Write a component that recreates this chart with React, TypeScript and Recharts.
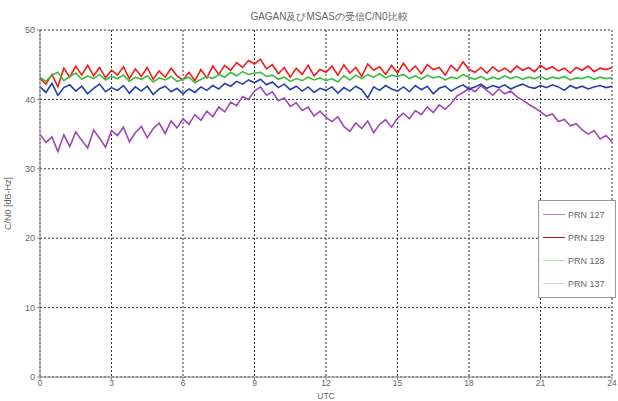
import { CartesianGrid, Line, LineChart, XAxis, YAxis } from "recharts";

// time in hours (UTC), every 15 minutes
const hours: number[] = Array.from({ length: 97 }, (_, i) => i * 0.25);

const prn127 = [
  35.0, 33.8, 34.6, 32.5, 34.9, 33.2, 35.3, 34.1, 33.0, 35.6, 34.4, 33.1, 35.5,
  34.8, 36.0, 33.9, 35.2, 36.1, 34.5, 35.8, 36.6, 35.1, 36.9, 35.9, 37.2,
  36.4, 37.8, 37.0, 38.3, 37.5, 38.9, 38.2, 39.6, 39.1, 40.4, 40.0, 41.2,
  41.8, 40.6, 41.1, 39.8, 40.2, 39.0, 39.5, 38.4, 38.9, 37.6, 38.3, 37.4,
  36.8, 37.5, 36.1, 35.4, 36.6, 35.8, 36.9, 35.2, 36.4, 37.1, 36.0, 37.3,
  38.0, 37.2, 38.4, 37.8, 38.9, 38.1, 39.2, 38.6, 39.4, 40.5, 41.0, 41.6,
  41.1, 42.0, 41.3, 40.6, 41.5, 40.8, 41.2, 40.4, 39.9, 39.3, 38.8, 38.2,
  37.6, 37.9, 36.8, 37.1, 36.2, 36.5, 35.6, 35.0, 35.5, 34.3, 34.8, 33.9,
];

const prn129 = [
  43.0, 42.2, 43.6, 41.8, 44.5, 43.2, 44.8, 43.5, 44.9, 43.4, 44.6, 43.1, 44.2,
  43.5, 44.7, 43.0, 44.4, 43.3, 44.6, 42.9, 44.1, 43.2, 44.5, 43.4, 42.8,
  43.9, 42.7, 44.3, 43.1, 44.8, 43.6, 44.9, 44.2, 45.3, 44.6, 45.6, 45.1,
  45.8, 44.4, 45.0, 43.7, 44.6, 43.2, 44.5, 43.6, 44.9, 43.4, 44.3, 43.9,
  44.8, 43.5, 45.0, 43.8, 44.6, 43.3, 45.1, 44.2, 44.7, 43.6, 44.9, 43.8,
  45.2, 44.0, 44.8, 43.7, 45.0, 44.3, 44.6, 43.5, 44.9, 44.1, 45.4, 44.3,
  43.9, 44.6, 43.8, 44.7, 44.0, 44.5, 43.9, 44.8, 44.2, 44.6, 44.0, 44.9,
  44.3, 44.7, 44.1, 44.5, 43.8, 44.6, 44.2, 44.8, 44.0, 44.5, 44.3, 44.6,
];

const prn128 = [
  43.2, 42.6, 43.5, 43.9, 42.7, 43.3, 43.8, 42.9, 43.4, 43.0, 43.6, 42.8, 43.3,
  43.0, 43.5, 42.6, 43.2, 42.9, 43.4, 42.5, 43.1, 42.8, 43.3, 42.6, 42.9,
  43.2, 42.4, 42.9, 43.3, 43.0, 43.6, 43.2, 43.9, 43.4, 44.0, 43.6, 43.8,
  43.9, 43.3, 43.5, 42.9, 43.2, 42.6, 43.0, 42.7, 43.2, 42.8, 43.1, 42.7,
  43.0, 42.5, 43.4, 42.8, 43.5, 43.0, 43.6, 43.2, 43.7, 43.1, 43.5, 43.3,
  43.6, 43.0, 43.4, 42.9, 43.5, 43.1, 43.3, 42.8, 43.2, 43.0, 43.6, 43.2,
  42.9, 43.3, 42.8, 43.2, 42.9, 43.4, 43.0, 43.3, 42.9, 43.2, 43.0, 43.3,
  42.9, 43.2, 43.0, 43.3, 42.8, 43.1, 43.0, 43.3, 42.9, 43.2, 43.0, 43.1,
];

const prn137 = [
  41.8, 41.0, 42.3, 40.6, 41.7, 42.1, 41.2, 41.9, 40.8, 41.6, 42.2, 41.1, 41.7,
  41.3, 42.0, 40.9, 41.8, 41.2, 41.9, 40.7, 41.5, 41.9, 41.1, 41.6, 40.8,
  41.5, 41.0, 41.8, 41.3, 42.0, 41.5, 42.3, 41.9, 42.6, 42.2, 42.8, 42.4,
  42.9, 42.1, 42.5, 41.7, 42.2, 41.4, 41.9, 41.2, 41.8, 41.0, 41.6, 41.3,
  41.8, 40.9, 41.7, 41.2, 41.9, 41.4, 40.2, 41.8, 41.3, 42.0, 41.5, 41.2,
  41.8, 41.1, 42.0, 41.4, 41.9, 40.8, 41.6, 41.9, 41.2, 41.7, 42.1, 41.5,
  41.8, 42.2, 41.6, 42.0, 41.7, 42.1, 41.5, 41.9, 42.2, 41.8, 41.6, 42.0,
  41.7, 42.1, 41.8, 41.3, 42.0, 41.6, 41.9, 41.5, 41.8, 42.0, 41.7, 41.9,
];

const xTicks = [0, 3, 6, 9, 12, 15, 18, 21, 24];
const yTicks = [0, 10, 20, 30, 40, 50];

const series = [
  { key: "prn127", name: "PRN 127", color: "#a048b8", legendColor: "#d070d0" },
  { key: "prn129", name: "PRN 129", color: "#f01c1c", legendColor: "#a02020" },
  { key: "prn128", name: "PRN 128", color: "#3cbc3c", legendColor: "#a0e0a0" },
  { key: "prn137", name: "PRN 137", color: "#2440b0", legendColor: "#d0d0f0" },
];

const data = hours.map((t, i) => ({
  t,
  prn127: prn127[i],
  prn129: prn129[i],
  prn128: prn128[i],
  prn137: prn137[i],
}));

const font = "'Liberation Sans', Arial, sans-serif";
const tickStyle = { fontSize: 9, fill: "#666", fontFamily: font };

function LegendBox() {
  return (
    <div
      style={{
        position: "absolute",
        left: 538,
        top: 200,
        width: 78,
        boxSizing: "border-box",
        border: "1px solid #999",
        background: "#fff",
        padding: "2px 4px",
        fontFamily: font,
        fontSize: 9,
        color: "#666",
      }}
    >
      {series.map((s) => (
        <div key={s.key} style={{ display: "flex", alignItems: "center", height: 23 }}>
          <span style={{ width: 22, height: 1, background: s.legendColor, marginRight: 3 }} />
          {s.name}
        </div>
      ))}
    </div>
  );
}

export default function App() {
  return (
    <div style={{ position: "absolute", left: 0, top: 0, width: 618, height: 401, background: "#fff" }}>
      <div
        style={{
          position: "absolute",
          top: 10,
          left: 0,
          width: 618,
          textAlign: "center",
          fontFamily: font,
          fontSize: 10,
          color: "#666",
          paddingLeft: 40,
          boxSizing: "border-box",
        }}
      >
        GAGAN及びMSASの受信C/N0比較
      </div>
      <LineChart width={618} height={401} data={data} margin={{ top: 30, right: 6, left: 0, bottom: 0 }}>
        <CartesianGrid stroke="#333" strokeDasharray="2 2" horizontalValues={yTicks} verticalValues={xTicks} />
        <XAxis
          dataKey="t"
          type="number"
          domain={[0, 24]}
          ticks={xTicks}
          tick={{ ...tickStyle, fontSize: 8.5 }}
          stroke="#888"
          tickSize={3}
          tickMargin={0}
          height={24}
          label={{ value: "UTC", position: "insideBottom", offset: 2, style: { fontSize: 8.5, fill: "#666", fontFamily: font } }}
        />
        <YAxis
          type="number"
          domain={[0, 50]}
          ticks={yTicks}
          tick={tickStyle}
          stroke="#888"
          tickSize={3}
          width={40}
          label={{
            value: "C/N0 [dB-Hz]",
            angle: -90,
            position: "insideLeft",
            offset: 8,
            style: { fontSize: 9, fill: "#666", fontFamily: font, textAnchor: "middle" },
          }}
        />
        {series.map((s) => (
          <Line
            key={s.key}
            dataKey={s.key}
            name={s.name}
            type="linear"
            stroke={s.color}
            strokeWidth={1.6}
            dot={false}
            isAnimationActive={false}
          />
        ))}
      </LineChart>
      <LegendBox />
    </div>
  );
}
